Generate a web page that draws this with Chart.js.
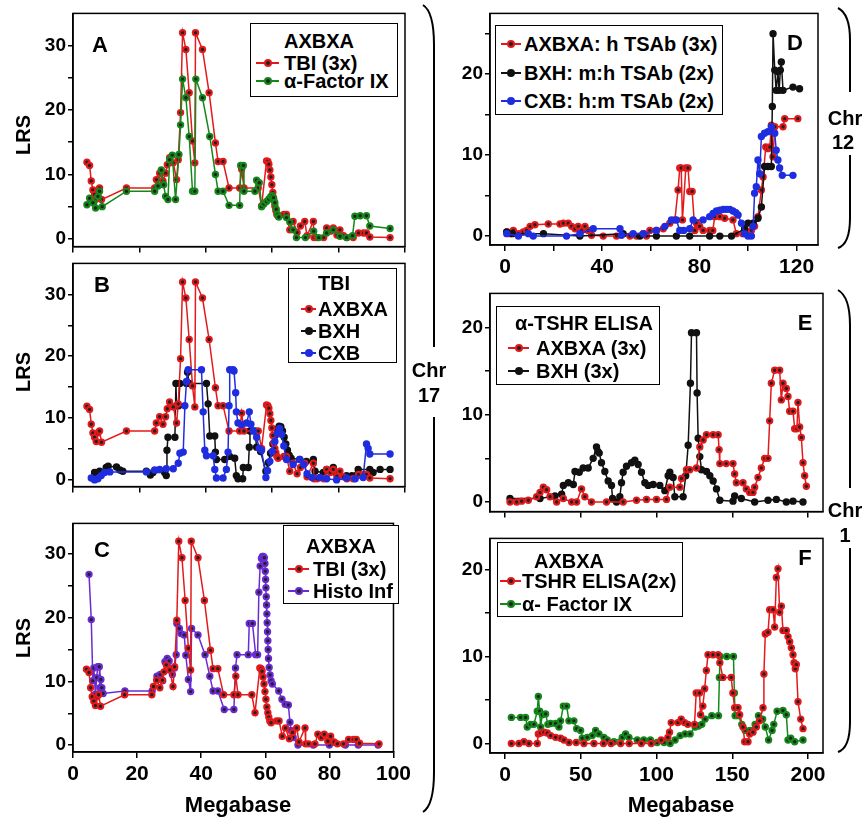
<!DOCTYPE html>
<html>
<head>
<meta charset="utf-8">
<title>LRS by Megabase</title>
<script src="https://cdn.jsdelivr.net/npm/chart.js@4.4.1/dist/chart.umd.min.js"></script>
<style>
body { margin: 0; background: #fff; }
#wrap { position: relative; width: 862px; height: 818px; overflow: hidden; background: #fff;
  font-family: "Liberation Sans", Arial, sans-serif; font-weight: bold; color: #000; }
#wrap canvas { position: absolute; }
.txt { position: absolute; white-space: nowrap; transform: translate(-50%, -50%); line-height: 1; }
.rot { transform: translate(-50%, -50%) rotate(-90deg); }
.lgd { position: absolute; border: 1.5px solid #000; background: #fff; box-sizing: border-box; font-size: 20px; }
.lgd div { position: absolute; white-space: nowrap; line-height: 1; }
.mk { position: absolute; height: 2px; }
.mk i { position: absolute; left: 50%; top: 50%; width: 4px; height: 4px; margin: -4px 0 0 -4px;
  border-radius: 50%; border: 2px solid; }
svg { position: absolute; left: 0; top: 0; }
</style>
</head>
<body>
<div id="wrap">
  <canvas id="cA" width="415" height="260" style="left:0;top:0"></canvas>
  <canvas id="cB" width="415" height="250" style="left:0;top:250px"></canvas>
  <canvas id="cC" width="415" height="308" style="left:0;top:510px"></canvas>
  <canvas id="cD" width="400" height="285" style="left:430px;top:0"></canvas>
  <canvas id="cE" width="400" height="245" style="left:430px;top:280px"></canvas>
  <canvas id="cF" width="400" height="293" style="left:430px;top:525px"></canvas>
  <svg width="862" height="818">
    <g fill="none" stroke="#000" stroke-width="2">
      <path d="M423,5 Q434,12 434,45 L434,347 M434,417 L434,772 Q434,805 423,812"/>
      <path d="M838,8 Q850,14 850,40 L850,92 M850,155 L850,218 Q850,244 838,248"/>
      <path d="M838,290 Q850,297 850,325 L850,488 M850,548 L850,722 Q850,748 838,752"/>
    </g>
  </svg>
</div>
<script>
// colours of the series
var RED = '#e3191b', GREEN = '#14891a', BLUE = '#1f2de0', PURPLE = '#6a2bd2', BLACK = '#111111';

// [Megabase, LRS]
// chr 17, AXBXA TBI (3x) - same trace in A, B and C
var tbiAxbxa = [[4.2,11.9],[5.0,11.4],[5.5,9.0],[6.0,7.6],[6.5,6.9],[7.0,6.2],[7.5,7.6],[8.0,7.9],[8.6,6.1],
  [16.1,7.9],[24.6,7.9],[25.1,9.2],[26.1,10.2],[27.1,9.0],[27.9,10.2],[28.4,11.5],[29.1,12.6],[30.2,11.8],
  [31.2,9.2],[31.7,12.3],[32.4,19.6],[33.0,32.0],[34.0,29.4],[35.0,22.7],[36.0,15.2],[36.7,11.8],[36.9,32.0],
  [39.0,29.4],[41.0,22.7],[42.9,14.9],[43.7,12.0],[45.2,12.0],[47.0,7.9],[50.2,7.9],[50.8,10.8],[51.5,7.9],
  [55.8,7.9],[56.8,5.1],[58.3,12.1],[58.7,12.0],[59.0,11.6],[59.3,10.7],[59.6,9.6],[59.9,8.4],[60.2,7.2],
  [60.5,6.0],[60.8,5.1],[61.1,4.4],[61.4,3.8],[61.8,3.5],[63.5,3.8],[64.3,3.8],[65.3,1.4],[66.3,2.7],
  [67.5,1.0],[68.5,2.0],[69.8,2.7],[70.5,0.5],[72.4,2.7],[72.6,0.2],[73.5,0.2],[75.5,0.2],[76.4,1.7],
  [77.5,1.2],[78.4,1.7],[79.5,0.6],[80.4,1.4],[81.5,0.5],[82.5,0.2],[84.4,0.2],[86.0,0.9],[87.5,0.9],
  [88.4,0.9],[89.4,0.3],[95.5,0.2]];

// chr 17, AXBXA alpha-Factor IX
var facIxAxbxa = [[4.2,5.3],[5.0,6.3],[6.0,5.6],[6.8,4.8],[7.5,6.6],[8.0,7.4],[8.8,5.0],[16.1,7.4],[24.6,7.4],
  [25.6,8.2],[26.6,10.7],[27.3,8.4],[27.9,6.6],[28.6,6.1],[29.1,12.3],[29.9,13.0],[30.9,6.1],[31.9,13.1],
  [32.4,17.7],[33.0,24.8],[34.0,21.9],[35.0,15.9],[36.0,7.4],[36.7,7.4],[37.0,24.8],[39.0,21.9],[41.2,15.9],
  [42.9,10.0],[43.7,7.4],[45.2,7.4],[47.0,5.2],[50.2,5.2],[50.5,11.4],[51.3,11.4],[51.5,7.4],[54.8,7.4],
  [55.3,9.1],[56.1,8.7],[56.8,5.0],[57.5,5.4],[58.3,5.8],[59.0,6.2],[59.6,6.6],[60.0,6.7],[60.4,6.4],
  [60.8,5.6],[61.2,4.6],[61.6,3.8],[62.0,3.4],[64.3,3.3],[65.3,2.6],[66.3,1.4],[67.3,0.2],[70.0,0.2],
  [72.5,1.2],[74.0,0.2],[76.4,0.9],[78.4,1.4],[80.4,0.4],[82.4,0.2],[84.2,0.5],[84.9,3.5],[86.5,3.6],
  [88.4,3.6],[89.4,2.0],[95.5,1.6]];

// chr 17, BXH TBI
var tbiBxh = [[6.5,1.2],[8.0,1.4],[10.0,2.0],[10.6,2.2],[13.1,2.1],[14.1,1.6],[15.0,1.4],[22.1,1.4],[23.3,0.8],
  [24.1,1.2],[27.6,1.2],[28.1,0.7],[28.3,4.8],[28.6,6.9],[30.7,6.9],[31.0,15.6],[31.2,12.0],[31.8,12.0],
  [32.2,15.6],[34.2,15.6],[34.5,17.4],[35.0,15.6],[40.2,15.6],[40.7,12.3],[41.2,7.1],[42.7,7.1],[42.9,4.5],
  [43.2,3.3],[45.7,3.3],[47.2,3.8],[48.7,3.5],[49.2,0.7],[49.7,0.2],[51.1,0.2],[51.3,2.0],[52.8,2.0],
  [53.1,5.3],[53.3,7.9],[54.8,7.9],[55.3,5.3],[56.5,4.6],[58.1,1.4],[58.8,2.8],[59.5,4.3],[60.2,5.8],
  [60.9,7.2],[61.5,8.2],[62.1,8.7],[62.6,8.6],[63.1,7.9],[63.6,6.9],[64.1,5.8],[64.6,4.8],[65.1,4.0],
  [65.7,3.5],[68.3,3.3],[70.3,3.0],[72.4,3.3],[72.9,1.4],[75.4,1.2],[76.4,1.7],[78.4,2.0],[79.4,1.0],
  [82.4,0.7],[84.0,0.7],[85.9,1.7],[89.4,1.7],[90.4,1.2],[92.5,1.7],[95.5,1.7]];

// chr 17, CXB TBI
var tbiCxb = [[5.5,0.3],[6.5,0.0],[7.5,0.2],[8.5,0.7],[9.5,1.2],[11.1,1.3],[22.1,1.3],[24.6,1.6],[26.1,1.7],
  [28.1,1.8],[30.2,1.8],[31.7,2.7],[32.2,4.3],[33.2,4.5],[33.7,12.0],[34.2,15.9],[34.7,17.8],[38.7,17.8],
  [39.2,11.0],[39.7,4.8],[40.2,3.9],[42.2,3.9],[42.7,1.7],[43.2,0.3],[45.2,0.3],[46.2,1.7],[46.7,4.5],
  [47.0,12.0],[47.2,17.8],[48.2,17.8],[48.5,17.6],[49.0,14.1],[49.2,11.0],[49.7,9.2],[50.8,8.9],[52.3,9.2],
  [53.1,11.0],[53.6,9.0],[54.3,7.9],[55.3,6.9],[56.1,5.1],[56.8,4.8],[58.1,0.4],[58.6,1.5],[59.3,3.0],
  [60.0,4.6],[60.8,6.2],[61.5,7.5],[62.2,8.3],[62.8,7.4],[63.5,5.5],[64.3,3.3],[66.3,2.5],[68.3,3.3],
  [69.5,2.5],[70.5,1.0],[72.0,0.4],[74.4,0.4],[76.4,0.2],[79.4,0.0],[82.4,0.3],[85.0,0.2],[87.4,0.4],
  [88.4,5.8],[88.9,5.1],[89.4,4.2],[95.5,4.2]];

// chr 17, AXBXA Histo Inf
var histoAxbxa = [[5.0,26.8],[5.7,19.7],[6.2,10.1],[6.5,12.1],[7.0,8.0],[7.4,10.6],[7.7,12.3],[8.2,12.3],
  [8.4,9.0],[8.7,10.3],[9.0,9.0],[9.4,8.1],[16.2,8.5],[24.7,8.5],[26.2,10.8],[27.2,11.1],[28.0,10.1],
  [28.7,13.1],[29.4,13.6],[30.0,13.2],[31.0,11.1],[31.7,12.1],[32.2,14.2],[32.4,19.1],[33.2,18.3],[33.7,17.5],
  [34.7,17.3],[35.2,14.1],[36.0,10.3],[36.7,8.4],[37.0,18.3],[39.0,17.3],[41.2,14.2],[42.7,10.8],[43.7,8.5],
  [45.2,8.5],[47.2,5.6],[50.2,5.6],[50.7,12.1],[51.2,14.2],[54.7,14.2],[55.0,19.1],[56.0,19.1],[57.0,14.2],
  [57.6,14.2],[58.0,24.0],[58.4,28.1],[58.8,29.3],[59.1,29.6],[59.4,29.6],[59.7,29.4],[59.9,28.5],[60.0,27.3],
  [60.1,26.0],[60.2,24.7],[60.3,23.3],[60.4,22.0],[60.5,20.6],[60.6,19.2],[60.7,17.8],[60.8,16.4],[60.9,15.0],
  [61.0,13.6],[61.2,12.2],[61.5,11.0],[61.8,10.1],[62.2,9.6],[64.2,8.5],[65.2,7.2],[66.2,6.4],[67.2,6.3],
  [67.7,3.6],[68.0,2.3],[68.7,1.2],[70.2,0],[75.0,0],[80.0,0],[85.0,0],[89.0,0],[95.2,0]];

// chr 12 TSAb
var tsabAxbxa = [[0.7,0.5],[2.1,0.3],[3.4,0.7],[5.5,0.3],[7.5,0.5],[8.9,0.7],[10.3,1.2],[12.3,1.4],[17.8,1.5],
  [22.6,1.5],[24.0,1.6],[26.0,1.6],[27.4,1.2],[28.8,0.9],[30.1,1.2],[31.5,0.7],[32.9,1.2],[34.2,0.7],
  [35.6,0.1],[40.4,0],[45.9,0],[51.4,0],[54.1,0],[56.8,0.3],[58.2,0],[59.6,0.7],[62.3,0.7],[65.1,0.9],
  [67.8,1.6],[69.9,2.0],[71.2,5.7],[71.9,8.4],[72.5,8.4],[73.0,2.0],[74.4,8.4],[75.3,8.4],[76.0,5.5],
  [77.0,5.5],[78.1,0.7],[78.8,1.6],[80.1,1.2],[81.5,0.7],[84.2,0.7],[85.5,0.7],[86.3,2.4],[88.4,2.4],
  [90.4,2.2],[93.8,2.0],[95.2,0.3],[97.9,0.3],[100.0,0.3],[101.4,0.7],[102.7,1.2],[104.1,2.4],[105.5,5.7],
  [106.2,7.3],[107.3,11.0],[108.2,10.8],[109.0,11.0],[109.6,13.7],[110.3,9.8],[111.0,13.5],[114.4,13.5],
  [115.1,14.5],[120.5,14.5]];
var tsabBxh = [[0.7,0.5],[3.0,0.3],[15.8,0.3],[30.8,0],[48.6,0.3],[55.5,0],[62.3,0],[70.5,0],[76.0,0],
  [84.2,0],[88.4,0],[93.2,0],[98.6,0.9],[100.0,1.6],[102.1,1.6],[104.1,2.2],[105.5,3.6],[106.8,8.6],
  [108.2,8.6],[109.6,8.6],[110.0,16.0],[110.3,25.0],[111.0,20.5],[111.6,18.0],[112.3,20.3],[112.8,18.0],
  [113.3,20.5],[113.7,21.5],[114.4,18.0],[118.5,18.4],[121.2,18.2]];
var tsabCxb = [[0.7,0.3],[5.5,0],[9.6,0.3],[11.6,0],[25.3,0],[30.8,0.3],[36.3,0.9],[47.3,0.9],[47.9,0.1],
  [52.7,0.3],[57.0,0.3],[62.3,0.7],[65.8,1.2],[68.5,2.0],[70.5,2.0],[71.9,0.7],[73.5,0.7],[76.0,0.9],
  [77.4,2.0],[81.5,2.0],[84.2,2.4],[85.6,2.8],[87.0,3.1],[88.4,3.2],[89.8,3.3],[91.1,3.3],[92.5,3.3],
  [93.8,3.1],[95.0,2.9],[95.9,2.6],[97.3,1.6],[98.6,0.3],[100.0,0],[101.4,0],[102.1,1.2],[102.7,5.3],
  [103.4,6.1],[104.1,9.4],[104.8,7.7],[105.5,12.3],[106.8,12.7],[108.2,12.9],[109.6,13.5],[111.0,12.7],
  [111.6,10.6],[112.3,9.4],[113.0,8.4],[114.1,7.5],[118.5,7.5]];

// chr 1, alpha-TSHR ELISA
var elisaAxbxa = [[3.3,0],[7.7,0],[11,0.1],[15.4,0.2],[20.9,0.6],[23.1,1.1],[25.3,1.7],[27.5,1.4],[29.7,0.6],
  [34.1,0],[38.5,0.4],[44.0,0],[47.3,0],[50.5,1.5],[52.7,0.6],[57.1,0],[67.0,0],[78.0,0],[86.8,0.2],
  [93.4,0.3],[100,0.3],[106.6,0.3],[108.8,1.7],[115.4,1.7],[116.5,2.7],[119.8,3.7],[122.0,3.7],[126.4,3.9],
  [128.6,6.3],[130.8,7.1],[133.0,7.7],[137.4,7.7],[140.7,7.7],[141.3,6.0],[141.8,4.4],[146,4.4],[150.5,4.4],
  [151.6,3.2],[152.7,2.2],[157.1,2.2],[159.3,1.5],[161.5,1.1],[163.7,1.1],[164.8,1.7],[167.0,2.8],[169.2,3.9],
  [171.4,5.0],[173.6,5.0],[174.7,9.3],[175.8,13.6],[178.0,15.1],[181.3,15.1],[182.4,11.7],[183.5,13.6],
  [185.7,13.0],[186.8,12.1],[187.9,10.4],[190.1,10.4],[191.2,8.4],[192.7,8.4],[193.4,11.4],[194.5,8.6],
  [195.6,7.4],[196.7,4.5],[197.8,3.0],[198.9,1.8]];
var elisaBxh = [[3.3,0.4],[23.1,0.4],[33.0,0.7],[37.4,0.9],[38.5,1.9],[41.8,2.2],[45.1,2.0],[46.2,3.5],[49,3.4],
  [51.6,3.9],[54.9,3.9],[58.2,5.0],[60.4,6.3],[61.3,5.8],[62.2,5.6],[63.7,4.5],[65.9,3.5],[68.1,2.4],
  [70.3,1.9],[71.0,0.4],[73.6,0],[75.8,0.6],[76.9,2.2],[78.0,3.4],[80.2,4.1],[83.5,4.5],[85.7,4.8],
  [87.9,4.3],[90.1,3.4],[92.3,2.2],[94.5,1.9],[97.8,2.0],[102.2,1.9],[105.5,1.3],[107.7,3.0],[108.8,3.4],
  [111.0,2.8],[112.1,0.6],[117.6,0.6],[119.3,3.0],[120.9,6.5],[122.4,13.6],[123.1,19.4],[126.4,19.4],
  [126.8,12.5],[127.5,7.3],[128.6,5.2],[129.7,3.7],[133.0,3.5],[135.2,3.0],[137.4,2.4],[139.6,1.5],
  [141.8,0.2],[150.5,0.1],[151.6,0.7],[156.0,0.4],[164.8,0],[173.6,0.2],[179.1,0.3],[185.7,0],[190.1,0.1],
  [196.7,0]];

// chr 1, AXBXA TSHR ELISA (2x) and alpha-Factor IX
var tshr2Axbxa = [[4.2,0],[9.2,0],[12.5,0.2],[15.8,0],[21.3,0],[22.0,1.1],[23.5,1.2],[25.7,1.3],[27.9,1.2],
  [30.1,0.9],[33.4,0.7],[36.7,0.6],[38.9,0.4],[42.2,0.1],[47,0.1],[52.1,0],[58.7,0],[65,0],[70,0],[76.3,0],
  [82,0],[90.0,0],[96.5,0],[103.1,0.4],[107.5,0.7],[108.6,1.3],[109.7,2.4],[114.1,2.4],[116.3,2.8],
  [118.5,2.4],[120.7,2.2],[125.1,2.2],[126.2,5.8],[128.4,5.8],[129.1,3.3],[130.6,4.3],[131.8,6.3],
  [132.9,8.4],[134.0,10.2],[137.3,10.2],[140.7,10.2],[141.8,9.3],[143.8,7.6],[149.3,7.6],[150.4,5.8],
  [151.6,4.1],[153.8,4.1],[154.9,3.3],[157.1,1.9],[158.2,0.2],[160.4,0.2],[161.5,1.1],[163.7,1.3],
  [165.9,1.9],[168.1,2.6],[170.3,4.1],[170.9,8.0],[171.8,12.6],[173.6,12.8],[174.7,15.4],[176.9,15.4],
  [178.0,13.4],[179.1,19.1],[180.2,20.1],[181.3,15.1],[182.4,15.8],[183.5,13.0],[185.7,13.0],[186.8,12.3],
  [187.9,11.7],[189.0,11.0],[190.1,10.2],[190.8,9.3],[191.6,8.6],[192.3,9.1],[193.4,4.8],[195.2,2.8],
  [196.7,1.7]];
var facIxChr1 = [[4.2,3.0],[10.3,3.0],[13.6,3.0],[14.7,1.9],[16.9,2.2],[19.1,2.2],[21.3,3.7],[22.0,5.4],
  [22.9,3.7],[23.5,1.9],[24.6,3.3],[26.8,3.4],[28.3,2.2],[30.1,2.3],[33.4,2.3],[35.6,1.9],[36.7,2.6],
  [38.5,4.3],[40.7,4.3],[42.2,2.6],[45.5,2.6],[47.3,1.7],[49.9,1.5],[51.0,0.6],[54.3,0.7],[57.6,0.9],
  [59.8,1.5],[62.0,1.1],[65.3,0.7],[67.5,0.4],[71.9,0.2],[77.4,0.7],[79.6,1.1],[81.8,0.7],[87.3,0.4],
  [91.6,0.4],[96.0,0.4],[100.4,0.1],[105,0.1],[109.0,0],[112.3,0.4],[115.6,0.9],[118.9,1.1],[122.2,1.1],
  [125.5,1.9],[127.7,2.0],[129.9,2.2],[132.1,2.8],[136.5,3.2],[140.9,3.2],[141.5,7.6],[142.0,10.0],
  [146.4,10.0],[150.8,10.0],[151.4,5.8],[151.9,3.2],[154.1,3.2],[156.3,2.2],[158.5,1.5],[161.8,1.5],
  [165.1,2.2],[167.3,3.2],[170.1,2.8],[171.8,1.9],[174.0,0.4],[176.3,1.5],[177.4,2.2],[179.6,3.7],
  [183.5,3.8],[185.7,3.3],[186.8,0.4],[188.6,0.6],[191.2,0.2],[196.7,0.4]];

// tick positions
var ticksChr17 = [0, 20, 40, 60, 80, 100];
var ticksChr12 = [0, 20, 40, 60, 80, 100, 120];
var ticksChr1 = [0, 50, 100, 150, 200];
var lrsTicks30 = [0, 5, 10, 15, 20, 25, 30];
var lrsTicks25 = [0, 5, 10, 15, 20, 25];
var lrsTicks20 = [0, 5, 10, 15, 20];

var FONT = '"Liberation Sans", Arial, sans-serif';

function series(pts, color, center) {
	return {
		data: pts.map(function (p) { return { x: p[0], y: p[1] }; }),
		showLine: true,
		borderColor: color,
		borderWidth: 1.5,
		pointRadius: 2.7,
		pointBorderWidth: 2,
		pointBorderColor: color,
		pointBackgroundColor: center || color,
		tension: 0
	};
}

// black box round the plot area
var framePlugin = {
	id: 'frame',
	afterDraw: function (chart) {
		var a = chart.chartArea, ctx = chart.ctx;
		ctx.save();
		ctx.strokeStyle = '#000';
		ctx.lineWidth = 1.5;
		ctx.strokeRect(a.left, a.top, a.right - a.left, a.bottom - a.top);
		ctx.restore();
	}
};

function makePanel(id, p) {
	var ctx = document.getElementById(id).getContext('2d');
	return new Chart(ctx, {
		type: 'scatter',
		data: { datasets: p.datasets },
		options: {
			responsive: false,
			animation: false,
			devicePixelRatio: 1,
			layout: { padding: { top: p.padTop, right: p.padRight, left: 0, bottom: 0 } },
			plugins: { legend: { display: false }, tooltip: { enabled: false } },
			scales: {
				x: {
					type: 'linear', min: p.xMin, max: p.xMax,
					afterBuildTicks: function (s) { s.ticks = p.xTicks.map(function (v) { return { value: v }; }); },
					afterFit: function (s) { s.height = p.xh; },
					grid: { drawOnChartArea: false, tickLength: 6, color: '#000', lineWidth: 1.5 },
					border: { display: true, color: '#000', width: 1.5 },
					ticks: {
						maxRotation: 0, autoSkip: false, padding: 4, color: '#000',
						font: { family: FONT, size: 21, weight: 'bold' },
						callback: function (v) { return p.xLabel(v) ? String(v) : ''; }
					}
				},
				y: {
					min: p.yMin, max: p.yMax,
					afterBuildTicks: function (s) { s.ticks = p.yTicks.map(function (v) { return { value: v }; }); },
					afterFit: function (s) { s.width = p.yw; },
					grid: { drawOnChartArea: false, tickLength: 5, color: '#000', lineWidth: 1.5 },
					border: { display: true, color: '#000', width: 1.5 },
					ticks: {
						autoSkip: false, padding: 2, color: '#000',
						font: { family: FONT, size: 19, weight: 'bold' },
						callback: function (v) { return v % 10 === 0 ? String(v) : ''; }
					}
				}
			}
		},
		plugins: [framePlugin]
	});
}

function none() { return false; }
function all() { return true; }

// left column, chr 17
makePanel('cA', { padTop: 13, padRight: 10, yw: 73, xh: 13, xMin: 0, xMax: 100, xTicks: ticksChr17, xLabel: none,
	yMin: -1.2, yMax: 35, yTicks: lrsTicks30,
	datasets: [series(facIxAxbxa, GREEN, '#222'), series(tbiAxbxa, RED, '#222')] });
makePanel('cB', { padTop: 5, padRight: 10, yw: 73, xh: 12, xMin: 0, xMax: 100, xTicks: ticksChr17, xLabel: none,
	yMin: -1.08, yMax: 35, yTicks: lrsTicks30,
	datasets: [series(tbiCxb, BLUE), series(tbiAxbxa, RED, '#222'), series(tbiBxh, BLACK)] });
makePanel('cC', { padTop: 10, padRight: 10, yw: 73, xh: 66, xMin: 0, xMax: 100, xTicks: ticksChr17, xLabel: all,
	yMin: -1.08, yMax: 34.8, yTicks: lrsTicks30,
	datasets: [series(tbiAxbxa, RED, '#222'), series(histoAxbxa, PURPLE, '#222')] });

// right column, chr 12 and chr 1
makePanel('cD', { padTop: 13, padRight: 12, yw: 60, xh: 40, xMin: -6.2, xMax: 128.8, xTicks: ticksChr12,
	xLabel: function (v) { return v % 40 === 0; },
	yMin: -1.1, yMax: 27.5, yTicks: lrsTicks25,
	datasets: [series(tsabCxb, BLUE), series(tsabBxh, BLACK), series(tsabAxbxa, RED, '#222')] });
makePanel('cE', { padTop: 13, padRight: 7, yw: 60, xh: 8, xMin: -9.9, xMax: 209.9, xTicks: ticksChr1, xLabel: none,
	yMin: -1.1, yMax: 23.9, yTicks: lrsTicks20,
	datasets: [series(elisaAxbxa, RED, '#222'), series(elisaBxh, BLACK)] });
makePanel('cF', { padTop: 8, padRight: 7, yw: 60, xh: 65, xMin: -9.9, xMax: 209.9, xTicks: ticksChr1, xLabel: all,
	yMin: -1.1, yMax: 23.6, yTicks: lrsTicks20,
	datasets: [series(tshr2Axbxa, RED, '#222'), series(facIxChr1, GREEN, '#222')] });

// --- text and legends in html ---
var wrap = document.getElementById('wrap');

function addText(str, x, y, size, cls) {
	var d = document.createElement('div');
	d.className = 'txt' + (cls ? ' ' + cls : '');
	d.style.left = x + 'px';
	d.style.top = y + 'px';
	d.style.fontSize = size + 'px';
	d.textContent = str;
	wrap.appendChild(d);
}

// box: [left, top, width, height]; title: [text, centerX, centerY] relative to box
// items: [label, color, rowY, markLeft, markRight, textLeft]
function addLegend(box, title, items) {
	var lg = document.createElement('div');
	lg.className = 'lgd';
	lg.style.left = box[0] + 'px';
	lg.style.top = box[1] + 'px';
	lg.style.width = box[2] + 'px';
	lg.style.height = box[3] + 'px';
	if (title) {
		var t = document.createElement('div');
		t.textContent = title[0];
		t.style.left = title[1] + 'px';
		t.style.top = title[2] + 'px';
		t.style.transform = 'translate(-50%, -50%)';
		lg.appendChild(t);
	}
	items.forEach(function (it) {
		var mk = document.createElement('span');
		mk.className = 'mk';
		mk.style.background = it[1];
		mk.style.left = it[3] + 'px';
		mk.style.width = (it[4] - it[3]) + 'px';
		mk.style.top = (it[2] - 1) + 'px';
		var dot = document.createElement('i');
		dot.style.borderColor = it[1];
		dot.style.background = it[1] === BLUE || it[1] === BLACK ? it[1] : '#222';
		mk.appendChild(dot);
		lg.appendChild(mk);
		var tx = document.createElement('div');
		tx.textContent = it[0];
		tx.style.left = it[5] + 'px';
		tx.style.top = it[2] + 'px';
		tx.style.transform = 'translateY(-50%)';
		lg.appendChild(tx);
	});
	wrap.appendChild(lg);
}

addLegend([250, 23, 148, 74], ['AXBXA', 68, 17], [
	['TBI (3x)', RED, 39, 5, 28, 33],
	['\u03b1-Factor IX', GREEN, 57, 5, 28, 33]]);
addLegend([288, 268, 109, 95], ['TBI', 45, 14], [
	['AXBXA', RED, 40, 12, 27, 29],
	['BXH', BLACK, 62, 12, 27, 29],
	['CXB', BLUE, 84, 12, 27, 29]]);
addLegend([283, 525, 116, 79], ['AXBXA', 57, 20], [
	['TBI (3x)', RED, 43, 4, 25, 29],
	['Histo Inf', PURPLE, 65, 4, 25, 29]]);
addLegend([495, 25, 228, 90], null, [
	['AXBXA: h TSAb (3x)', RED, 18, 5, 25, 28],
	['BXH: m:h TSAb (2x)', BLACK, 47, 5, 25, 28],
	['CXB: h:m TSAb (2x)', BLUE, 75, 5, 25, 28]]);
addLegend([496, 306, 164, 79], ['\u03b1-TSHR ELISA', 87, 16], [
	['AXBXA (3x)', RED, 41, 11, 32, 39],
	['BXH (3x)', BLACK, 64, 11, 32, 39]]);
addLegend([497, 542, 186, 75], ['AXBXA', 71, 18], [
	['TSHR ELISA(2x)', RED, 38, 2, 23, 24],
	['\u03b1- Factor IX', GREEN, 61, 2, 23, 24]]);

// panel letters
addText('A', 100, 45, 22);
addText('B', 102, 285, 22);
addText('C', 102, 550, 22);
addText('D', 795, 43, 22);
addText('E', 805, 323, 22);
addText('F', 805, 558, 22);

// axis titles
addText('LRS', 23, 135, 20, 'rot');
addText('LRS', 23, 372, 20, 'rot');
addText('LRS', 23, 638, 20, 'rot');
addText('Megabase', 238, 805, 22);
addText('Megabase', 681, 805, 22);

// chromosome labels beside the braces
addText('Chr', 429, 370, 20);
addText('17', 429, 395, 20);
addText('Chr', 845, 118, 20);
addText('12', 843, 142, 20);
addText('Chr', 845, 510, 20);
addText('1', 845, 535, 20);
</script>
</body>
</html>
